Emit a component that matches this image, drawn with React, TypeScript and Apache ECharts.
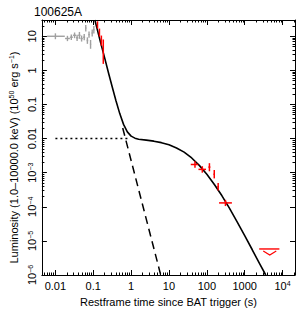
import React, { useEffect, useRef } from 'react';
import * as echarts from 'echarts';

const chartTitle = '100625A';
const xAxisTitle = 'Restframe time since BAT trigger (s)';
const yAxisTitle = 'Luminosity (1.0–10000.0 keV) (10{sup|50} erg s{sup|−1})';

const xMajor = [0.01, 0.1, 1, 10, 100, 1000, 10000];
const xMajorLabels = ['0.01', '0.1', '1', '10', '100', '1000', '10{sup|4}'];
const yMajor = [1e-6, 1e-5, 1e-4, 1e-3, 0.01, 0.1, 1, 10];
const yMajorLabels = ['10{sup|−6}', '10{sup|−5}', '10{sup|−4}', '10{sup|−3}', '0.01', '0.1', '1', '10'];
const xMin = 0.0044;
const xMax = 21300;
const yMin = 1e-6;
const yMax = 30;

// BAT data (grey): time, luminosity, time range, luminosity range
const batT = [0.01, 0.0208, 0.0263, 0.0321, 0.0374, 0.0431, 0.0492, 0.0577, 0.0634, 0.07, 0.0773, 0.0849, 0.0938, 0.1035];
const batL = [10.0, 8.6, 9.4, 10.7, 9.0, 10.7, 8.6, 9.4, 17.4, 7.5, 11.2, 5.8, 12.5, 15.5];
const batTLo = [0.006, 0.018, 0.0241, 0.029, 0.035, 0.04, 0.046, 0.054, 0.061, 0.067, 0.074, 0.0815, 0.09, 0.099];
const batTHi = [0.0177, 0.0241, 0.029, 0.035, 0.04, 0.046, 0.053, 0.061, 0.066, 0.0735, 0.081, 0.088, 0.0975, 0.108];
const batLLo = [8.2, 7.2, 7.8, 8.8, 7.3, 8.4, 7.0, 7.6, 13.8, 6.0, 9.0, 4.3, 9.8, 12.0];
const batLHi = [12.2, 10.3, 11.3, 12.9, 11.0, 13.4, 10.5, 11.6, 21.5, 9.3, 13.9, 7.8, 15.8, 20.0];

// XRT data (red)
const xrtT = [0.1294, 0.1455, 0.1637, 0.184, 48.6, 75.9, 117, 157, 199, 310];
const xrtL = [21.6, 12.8, 7.5, 4.17, 1.74e-3, 1.25e-3, 1.46e-3, 9.0e-4, 3.9e-4, 1.3e-4];
const xrtTLo = [0.126, 0.1415, 0.159, 0.179, 37.6, 60, 110, 150, 190, 210];
const xrtTHi = [0.133, 0.1495, 0.168, 0.189, 59, 95, 124, 164, 208, 459];
const xrtLLo = [17.0, 9.8, 5.3, 1.55, 1.4e-3, 1.0e-3, 1.1e-3, 6.8e-4, 3.0e-4, 1.05e-4];
const xrtLHi = [27.5, 16.8, 10.5, 8.05, 2.15e-3, 1.55e-3, 1.9e-3, 1.2e-3, 5.0e-4, 1.6e-4];

// upper limit
const ulT = [4590];
const ulL = [5.8e-6];
const ulTLo = [2410];
const ulTHi = [8240];

// model curves
const modelT = [0.11, 0.126, 0.158, 0.2, 0.251, 0.316, 0.398, 0.501, 0.631, 0.794, 1.0, 1.26, 1.58, 2.51, 3.98, 6.31, 10, 15.8, 25.1, 39.8, 63.1, 100, 158, 251, 398, 631, 1000, 1585, 2512, 3600];
const modelL = [30, 16.8, 6.24, 2.32, 0.87, 0.33, 0.129, 0.054, 0.0261, 0.0157, 0.0118, 0.0103, 0.0096, 0.009, 0.0084, 0.0076, 0.0066, 0.0053, 0.004, 0.0027, 0.00164, 9.0e-4, 4.5e-4, 2.1e-4, 9.0e-5, 3.6e-5, 1.42e-5, 5.5e-6, 2.1e-6, 1.0e-6];
const decayT = [0.6, 6.05];
const decayL = [0.0204, 1.0e-6];
const plateauT = [0.01, 0.85];
const plateauL = [0.01, 0.01];

const FONT = '"Liberation Sans", Arial, Helvetica, sans-serif';

function minorValues(lo: number, hi: number) {
  const out: number[] = [];
  for (let e = -4; e <= 5; e++) {
    for (let k = 2; k <= 9; k++) {
      const v = k * Math.pow(10, e);
      if (v > lo && v < hi) out.push(v);
    }
  }
  return out;
}

function labelFor(vals: number[], labels: string[]) {
  return (v: number) => {
    const lv = Math.log10(v);
    for (let i = 0; i < vals.length; i++) {
      if (Math.abs(Math.log10(vals[i]) - lv) < 1e-6) return labels[i];
    }
    return '';
  };
}

const errRender = (color: string, w: number) => (params: any, api: any) => {
  const t = api.value(0), L = api.value(1), tLo = api.value(2), tHi = api.value(3), lLo = api.value(4), lHi = api.value(5);
  const a = api.coord([tLo, L]);
  const b = api.coord([tHi, L]);
  const c = api.coord([t, lLo]);
  const d = api.coord([t, lHi]);
  return {
    type: 'group',
    children: [
      { type: 'line', shape: { x1: a[0], y1: a[1], x2: b[0], y2: b[1] }, style: { stroke: color, lineWidth: w } },
      { type: 'line', shape: { x1: c[0], y1: c[1], x2: d[0], y2: d[1] }, style: { stroke: color, lineWidth: w } },
    ],
  };
};

const ulRender = (params: any, api: any) => {
  const t = api.value(0), L = api.value(1), tLo = api.value(2), tHi = api.value(3);
  const a = api.coord([tLo, L]);
  const b = api.coord([tHi, L]);
  const c = api.coord([t, L]);
  return {
    type: 'group',
    children: [
      { type: 'line', shape: { x1: a[0], y1: a[1], x2: b[0], y2: b[1] }, style: { stroke: '#ff0000', lineWidth: 1.4 } },
      {
        type: 'polyline',
        shape: { points: [[c[0] - 6.5, c[1] + 2], [c[0], c[1] + 6], [c[0] + 6.5, c[1] + 2]] },
        style: { stroke: '#ff0000', fill: 'none', lineWidth: 1.2 },
      },
    ],
  };
};

export default function App() {
  const ref = useRef<HTMLDivElement>(null);
  useEffect(() => {
    if (!ref.current) return;
    const chart = echarts.init(ref.current, undefined, { renderer: 'svg' });
    const xMinor = minorValues(xMin, xMax);
    const yMinor = minorValues(yMin, yMax);
    const sup = { fontSize: 7, verticalAlign: 'top', lineHeight: 8, fontFamily: FONT, color: '#000' };
    const baseX = {
      type: 'log',
      min: xMin,
      max: xMax,
      gridIndex: 0,
      splitLine: { show: false },
      axisLine: { show: false, onZero: false, lineStyle: { color: '#000', width: 1 } },
      axisLabel: { show: false },
      axisTick: { show: false },
    };
    const baseY = {
      type: 'log',
      min: yMin,
      max: yMax,
      gridIndex: 0,
      splitLine: { show: false },
      axisLine: { show: false, onZero: false, lineStyle: { color: '#000', width: 1 } },
      axisLabel: { show: false },
      axisTick: { show: false },
    };
    const majorTick = (vals: number[]) => ({ show: true, inside: true, length: 5, customValues: vals, lineStyle: { color: '#000', width: 1 } });
    const minorTick = (vals: number[]) => ({ show: true, inside: true, length: 2.5, customValues: vals, lineStyle: { color: '#000', width: 1 } });

    const option: any = {
      animation: false,
      title: {
        text: chartTitle,
        left: 29,
        top: 1,
        textStyle: { fontSize: 12, fontWeight: 'normal', color: '#000', fontFamily: FONT },
      },
      grid: { left: 33, top: 20, width: 262, height: 261, containLabel: false },
      xAxis: [
        {
          ...baseX,
          position: 'bottom',
          name: xAxisTitle,
          nameLocation: 'middle',
          nameGap: 21,
          nameTextStyle: { fontSize: 11, color: '#000', fontFamily: FONT },
          axisLine: { show: true, onZero: false, lineStyle: { color: '#000', width: 1 } },
          axisTick: majorTick(xMajor),
          axisLabel: {
            show: true,
            customValues: xMajor,
            margin: 5,
            fontSize: 11,
            color: '#000',
            fontFamily: FONT,
            formatter: labelFor(xMajor, xMajorLabels),
            rich: { sup },
          },
        },
        { ...baseX, position: 'bottom', axisTick: minorTick(xMinor) },
        { ...baseX, position: 'top', axisLine: { show: true, onZero: false, lineStyle: { color: '#000', width: 1 } }, axisTick: majorTick(xMajor) },
        { ...baseX, position: 'top', axisTick: minorTick(xMinor) },
      ],
      yAxis: [
        {
          ...baseY,
          position: 'left',
          name: yAxisTitle,
          nameLocation: 'middle',
          nameRotate: 90,
          nameGap: 19,
          nameTextStyle: { fontSize: 11, color: '#000', fontFamily: FONT, padding: [0, 20, 0, 0], rich: { sup } },
          axisLine: { show: true, onZero: false, lineStyle: { color: '#000', width: 1 } },
          axisTick: majorTick(yMajor),
          axisLabel: {
            show: true,
            customValues: yMajor,
            rotate: 90,
            margin: 4,
            fontSize: 11,
            color: '#000',
            fontFamily: FONT,
            formatter: labelFor(yMajor, yMajorLabels),
            rich: { sup },
          },
        },
        { ...baseY, position: 'left', axisTick: minorTick(yMinor) },
        { ...baseY, position: 'right', axisLine: { show: true, onZero: false, lineStyle: { color: '#000', width: 1 } }, axisTick: majorTick(yMajor) },
        { ...baseY, position: 'right', axisTick: minorTick(yMinor) },
      ],
      series: [
        {
          type: 'line',
          name: 'plateau',
          xAxisIndex: 0,
          yAxisIndex: 0,
          data: plateauT.map((t, i) => [t, plateauL[i]]),
          showSymbol: false,
          lineStyle: { color: '#000', width: 1.5, type: [2, 3] },
        },
        {
          type: 'line',
          name: 'decay',
          xAxisIndex: 0,
          yAxisIndex: 0,
          data: decayT.map((t, i) => [t, decayL[i]]),
          showSymbol: false,
          lineStyle: { color: '#000', width: 1.5, type: [8, 5] },
        },
        {
          type: 'custom',
          name: 'BAT',
          xAxisIndex: 0,
          yAxisIndex: 0,
          renderItem: errRender('#a0a0a0', 1.4),
          encode: { x: [0, 2, 3], y: [1, 4, 5] },
          data: batT.map((t, i) => [t, batL[i], batTLo[i], batTHi[i], batLLo[i], batLHi[i]]),
        },
        {
          type: 'line',
          name: 'model',
          xAxisIndex: 0,
          yAxisIndex: 0,
          data: modelT.map((t, i) => [t, modelL[i]]),
          showSymbol: false,
          lineStyle: { color: '#000', width: 1.6 },
          z: 3,
        },
        {
          type: 'custom',
          name: 'XRT',
          xAxisIndex: 0,
          yAxisIndex: 0,
          renderItem: errRender('#ff0000', 1.5),
          encode: { x: [0, 2, 3], y: [1, 4, 5] },
          data: xrtT.map((t, i) => [t, xrtL[i], xrtTLo[i], xrtTHi[i], xrtLLo[i], xrtLHi[i]]),
          z: 4,
        },
        {
          type: 'custom',
          name: 'upper limit',
          xAxisIndex: 0,
          yAxisIndex: 0,
          renderItem: ulRender,
          encode: { x: [0, 2, 3], y: [1] },
          data: ulT.map((t, i) => [t, ulL[i], ulTLo[i], ulTHi[i]]),
          z: 4,
        },
      ],
    };
    chart.setOption(option);
    return () => chart.dispose();
  }, []);
  return (
    <div
      ref={ref}
      style={{ position: 'absolute', left: 0, top: 0, width: 300, height: 312, background: '#fff' }}
    />
  );
}
